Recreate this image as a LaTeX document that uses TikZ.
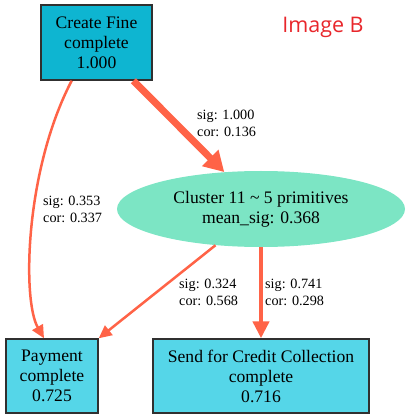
\documentclass[tikz,border=0pt]{standalone}
\usepackage{fontspec}
\setmainfont{Liberation Serif}
\newfontfamily\labsans{Open Sans}
\usetikzlibrary{arrows.meta,shapes.geometric}
\definecolor{boxdark}{HTML}{0EB5D1}
\definecolor{boxlight}{HTML}{55D6E8}
\definecolor{clus}{HTML}{7CE5C4}
\definecolor{edgec}{HTML}{FF6347}
\definecolor{bord}{HTML}{303030}
\definecolor{imgred}{HTML}{E8262B}
\tikzset{
  actbox/.style={draw=bord, line width=1.4pt, rectangle, align=center, inner sep=0pt,
    font=\fontsize{17.6}{20}\selectfont},
  clusnode/.style={ellipse, fill=clus, draw=none, align=center, inner sep=0pt,
    font=\fontsize{17.6}{20}\selectfont},
  edge/.style={draw=edgec, color=edgec},
  elab/.style={anchor=north west, align=left, inner sep=0pt, font=\fontsize{14.2}{17}\selectfont}
}
\begin{document}
\begin{tikzpicture}[x=1pt,y=-1pt]
\useasboundingbox (0,0) rectangle (408,419);
\node[actbox, fill=boxdark, minimum width=111pt, minimum height=75pt] (cf) at (96.5,42.5) {Create Fine\\complete\\1.000};
\node[clusnode, minimum width=288pt, minimum height=76pt] (cl) at (261,209) {Cluster 11 \textasciitilde{} 5 primitives\\mean\_sig: 0.368};
\node[actbox, fill=boxlight, minimum width=92pt, minimum height=74pt] (pay) at (52,376) {Payment\\complete\\0.725};
\node[actbox, fill=boxlight, minimum width=216pt, minimum height=74pt] (send) at (261,376) {Send for Credit Collection\\complete\\0.716};
\node[text=imgred, font=\labsans\fontsize{21.5}{24}\selectfont, inner sep=0pt] (title) at (323,27) {Image B};

\draw[edge, line width=7pt, -{Triangle[length=20pt,width=22pt]}] (cf.-46) -- (cl);
\draw[edge, line width=2.5pt, -{Triangle[length=13pt,width=12pt]}] (cf.-123) .. controls (25,170) and (22,300) .. (pay.north -| 44,0);
\draw[edge, line width=2.5pt, -{Triangle[length=13pt,width=12pt]}] (cl) -- (pay.north east);
\draw[edge, line width=4.5pt, -{Triangle[length=17pt,width=16pt]}] (cl) -- (send);

\node[elab] (l1) at (197,110) {sig: 1.000\\cor: 0.136};
\node[elab] (l2) at (43,196) {sig: 0.353\\cor: 0.337};
\node[elab] (l3) at (179,279) {sig: 0.324\\cor: 0.568};
\node[elab] (l4) at (265,279) {sig: 0.741\\cor: 0.298};
\end{tikzpicture}
\end{document}
